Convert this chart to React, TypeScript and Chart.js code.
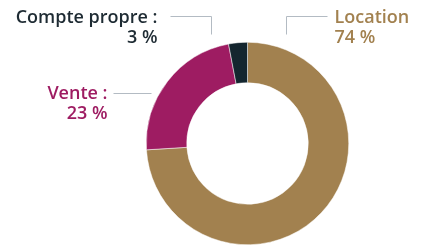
import React, { useEffect, useRef } from "react";
import { Chart, registerables } from "chart.js";

Chart.register(...registerables);

const categories = ["Location", "Vente", "Compte propre"];
const values = [74, 23, 3];
const colors = ["#A2814F", "#9E1C62", "#14262F"];
const textColors = ["#A2814F", "#9E1C62", "#1E2B33"];

const FONT = "600 18px 'Open Sans'";

const labelPlugin = {
  id: "outerLabels",
  afterDraw(chart: any) {
    const ctx = chart.ctx;
    const meta = chart.getDatasetMeta(0);
    const arc = meta.data[0];
    const cx = arc.x;
    const cy = arc.y;
    const r = arc.outerRadius;
    ctx.save();
    ctx.font = FONT;
    ctx.textBaseline = "alphabetic";
    ctx.strokeStyle = "#B3BBC3";
    ctx.lineWidth = 1;
    // positions relative to the doughnut centre
    const specs = [
      { i: 0, tx: cx + 87, ty: cy - 121, align: "left", line: [[cx + 79, cy - 128], [cx + 38, cy - 128], [cx + 38, cy - 110]] },
      { i: 1, tx: cx - 140, ty: cy - 45, align: "right", line: [[cx - 135, cy - 51], [cx - 97, cy - 51]] },
      { i: 2, tx: cx - 90, ty: cy - 121, align: "right", line: [[cx - 78, cy - 128], [cx - 37, cy - 128], [cx - 37, cy - 110]] },
    ];
    for (const s of specs) {
      ctx.beginPath();
      s.line.forEach((p: number[], k: number) => {
        const x = Math.round(p[0]) + 0.5;
        const y = Math.round(p[1]) + 0.5;
        if (k === 0) ctx.moveTo(x, y);
        else ctx.lineTo(x, y);
      });
      ctx.stroke();
      ctx.fillStyle = textColors[s.i];
      ctx.textAlign = s.align;
      ctx.fillText(categories[s.i] + " :", s.tx, s.ty);
      ctx.fillText(values[s.i] + " %", s.tx, s.ty + 20);
    }
    ctx.restore();
    void r;
  },
};

export default function App() {
  const ref = useRef<HTMLCanvasElement>(null);
  useEffect(() => {
    const chart = new Chart(ref.current!, {
      type: "doughnut",
      data: {
        labels: categories,
        datasets: [
          {
            data: values,
            backgroundColor: colors,
            borderWidth: 0.5,
            borderColor: "#ffffff",
          },
        ],
      },
      options: {
        animation: false,
        responsive: true,
        maintainAspectRatio: false,
        cutout: "60%",
        layout: { padding: { top: 34, bottom: 1, left: 72, right: 0 } },
        plugins: { legend: { display: false }, tooltip: { enabled: false } },
      },
      plugins: [labelPlugin],
    });
    return () => chart.destroy();
  }, []);
  return (
    <div style={{ position: "relative", width: 407, height: 238 }}>
      <canvas ref={ref} />
    </div>
  );
}
